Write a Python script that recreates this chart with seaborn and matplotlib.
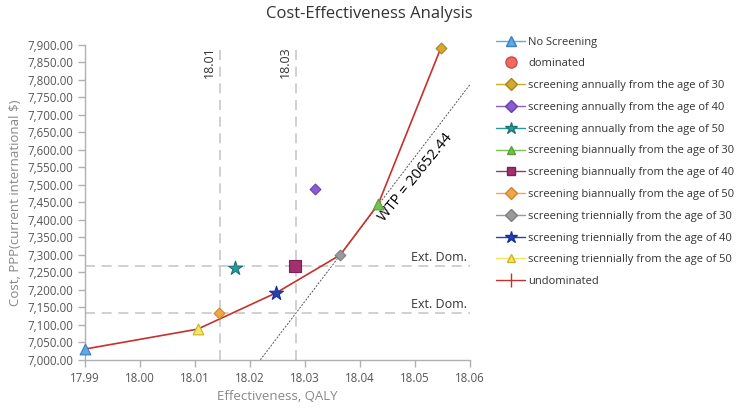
"""
Cost-effectiveness frontier of screening strategies
"""

import numpy as np
import pandas as pd
import matplotlib
matplotlib.use('Agg')
import matplotlib.pyplot as plt
from matplotlib.lines import Line2D
import seaborn as sns

# Data
strategies = [
    'No Screening',
    'screening annually from the age of 30',
    'screening annually from the age of 40',
    'screening annually from the age of 50',
    'screening biannually from the age of 30',
    'screening biannually from the age of 40',
    'screening biannually from the age of 50',
    'screening triennially from the age of 30',
    'screening triennially from the age of 40',
    'screening triennially from the age of 50',
]
effectiveness = [17.9900, 18.0547, 18.0318, 18.0173, 18.0433, 18.0281,
                 18.0144, 18.0364, 18.0248, 18.0105]
cost = [7031, 7892, 7489, 7264, 7445, 7267, 7133, 7300, 7192, 7088]

frontier = ['No Screening',
            'screening triennially from the age of 50',
            'screening triennially from the age of 40',
            'screening triennially from the age of 30',
            'screening biannually from the age of 30',
            'screening annually from the age of 30']

wtp = 20652.44
ext_dom_x = [18.0145, 18.0283]
ext_dom_x_labels = ['18.01', '18.03']
ext_dom_y = [7133, 7267]

# styles
markers = ['^', 'D', 'D', '*', '^', 's', 'D', 'D', '*', '^']
sizes = [60, 30, 30, 110, 60, 70, 30, 30, 110, 60]
faces = ['#5aaae6', '#d4aa2a', '#8a5cd2', '#2a9a9c', '#78c052', '#a3306e',
         '#f0a64a', '#9a9a9a', '#2442b8', '#f7e45a']
edges = ['#3a80c0', '#a88420', '#6a40b0', '#1f7475', '#54a035', '#7d1f52',
         '#d08530', '#808080', '#18309a', '#c8b430']

df = pd.DataFrame({'strategy': strategies, 'eff': effectiveness, 'cost': cost})

sns.set_theme(style='white')
plt.rcParams['font.family'] = ['Open Sans', 'DejaVu Sans']

fig = plt.figure(figsize=(7.38, 4.09), dpi=100)
ax = fig.add_axes([0.115, 0.12, 0.522, 0.77])

grey = '#c8c8c8'
# reference lines
for xv, lab in zip(ext_dom_x, ext_dom_x_labels):
    ax.axvline(xv, color=grey, lw=1.2, ls=(0, (6, 4)), zorder=1)
    ax.text(xv - 0.0006, 7895, lab, rotation=90, ha='right', va='top',
            fontsize=9, color='#333333')
for yv in ext_dom_y:
    ax.axhline(yv, color=grey, lw=1.2, ls=(0, (6, 4)), zorder=1)
    ax.text(18.0595, yv + 8, 'Ext. Dom.', ha='right', va='bottom',
            fontsize=9, color='#333333')

# WTP line through the triennial-30 frontier point
anchor = df.set_index('strategy').loc['screening triennially from the age of 30']
x0 = anchor['eff'] - (anchor['cost'] - 7000) / wtp
xs = np.array([x0, 18.06])
ys = anchor['cost'] + (xs - anchor['eff']) * wtp
ax.plot(xs, ys, color='#555555', lw=0.7, ls=(0, (2, 1.5)), zorder=2)
ax.text(18.0501, 7522, f'WTP = {wtp}', rotation=51, ha='center', va='center',
        fontsize=10.5, color='black', rotation_mode='anchor')

# frontier
front = df.set_index('strategy').loc[frontier].reset_index()
sns.lineplot(data=front, x='eff', y='cost', sort=False, color='#c8302c',
             lw=1.2, ax=ax, zorder=3)

# strategy points
for i, s in enumerate(strategies):
    sub = df[df['strategy'] == s]
    sns.scatterplot(data=sub, x='eff', y='cost', marker=markers[i],
                    s=sizes[i], color=faces[i], edgecolor=edges[i],
                    linewidth=0.8, ax=ax, zorder=4, clip_on=False)

ax.set_xlim(17.99, 18.06)
ax.set_ylim(7000, 7900)
ax.set_xticks(np.round(np.arange(17.99, 18.0601, 0.01), 2))
ax.set_yticks(np.arange(7000, 7901, 50))
ax.xaxis.set_major_formatter(plt.FuncFormatter(lambda v, p: f'{v:.2f}'))
ax.yaxis.set_major_formatter(plt.FuncFormatter(lambda v, p: f'{v:,.2f}'))
ax.tick_params(axis='both', labelsize=8.3, labelcolor='#555555',
               color='#b0b0b0', length=5, width=1, direction='out',
               bottom=True, left=True)
for side in ['top', 'right']:
    ax.spines[side].set_visible(False)
for side in ['left', 'bottom']:
    ax.spines[side].set_color('#b0b0b0')
    ax.spines[side].set_linewidth(1)

ax.set_xlabel('Effectiveness, QALY', fontsize=9.5, color='#888888')
ax.set_ylabel('Cost, PPP(current international $)', fontsize=9.5,
              color='#888888')
fig.suptitle('Cost-Effectiveness Analysis', x=0.5, y=0.985, fontsize=12,
             color='#333333')

# legend
handles = []
labels = []
handles.append(Line2D([], [], color=faces[0], marker=markers[0], ms=7,
                      mfc=faces[0], mec=edges[0], lw=1.0))
labels.append(strategies[0])
handles.append(Line2D([], [], color='none', marker='o', ms=8,
                      mfc='#f06a62', mec='#d04a44', lw=0))
labels.append('dominated')
for i in range(1, len(strategies)):
    ms = 9 if markers[i] == '*' else 6
    handles.append(Line2D([], [], color=faces[i], marker=markers[i], ms=ms,
                          mfc=faces[i], mec=edges[i], lw=1.0))
    labels.append(strategies[i])
handles.append(Line2D([], [], color='#c8302c', marker='|', ms=10, lw=1.0,
                      mec='#c8302c'))
labels.append('undominated')

fig.legend(handles, labels, loc='upper left', bbox_to_anchor=(0.659, 0.935),
           frameon=False, fontsize=8.0, handlelength=2.6, handletextpad=0.25,
           labelspacing=0.97, labelcolor='#333333')

fig.savefig('out.png', dpi=100)
plt.close(fig)
